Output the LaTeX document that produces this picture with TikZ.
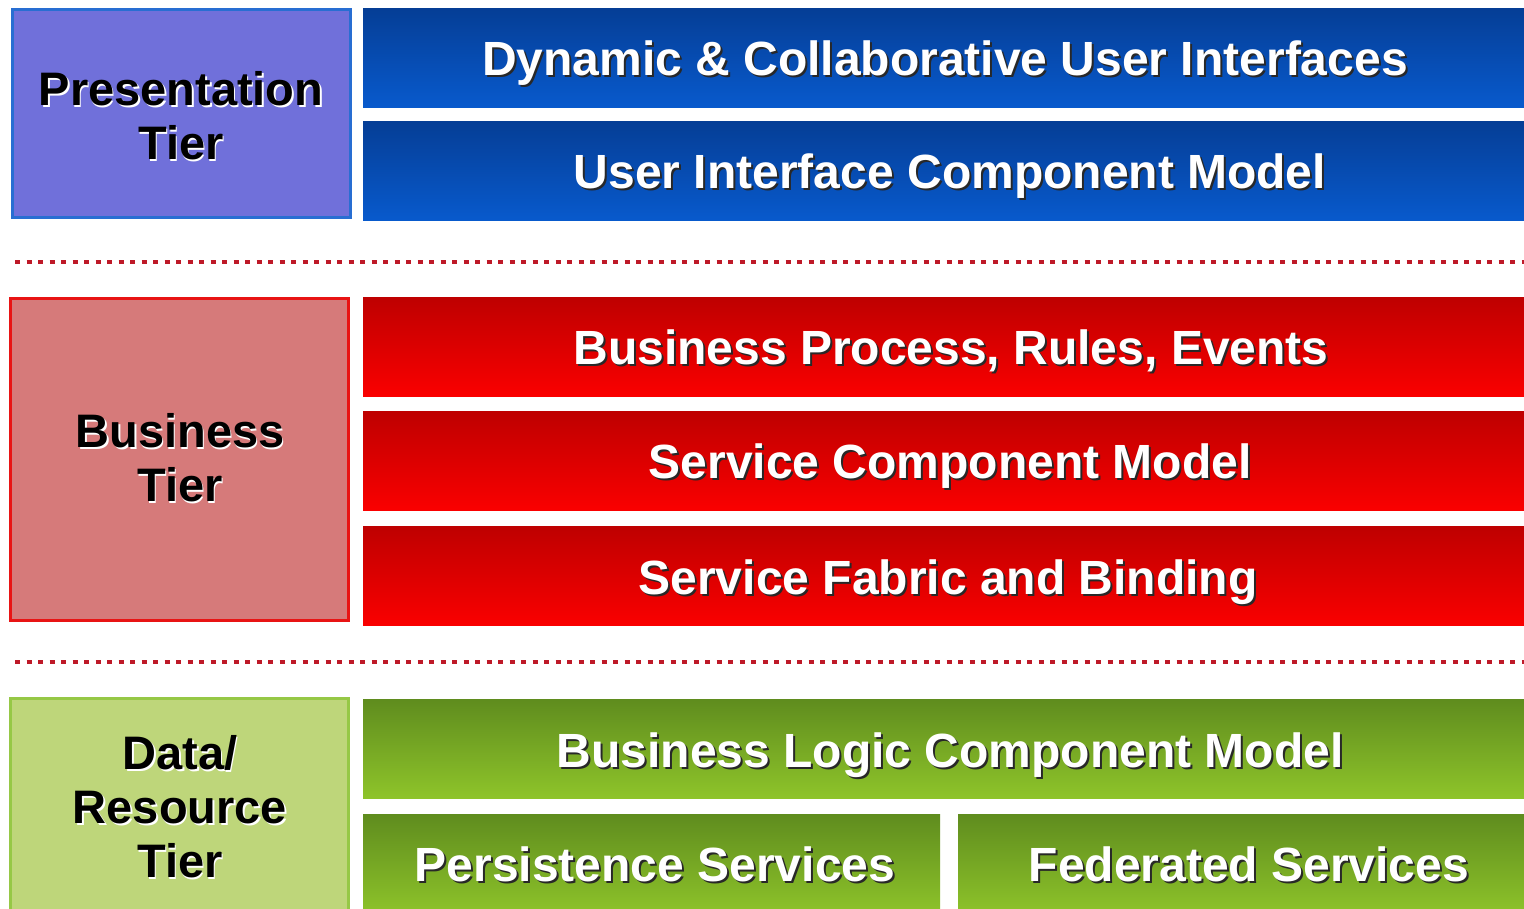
\documentclass[tikz,border=0pt]{standalone}
\usepackage{fontspec}
\setmainfont{Liberation Sans}
\definecolor{pfill}{RGB}{112,112,218}
\definecolor{pedge}{RGB}{40,110,210}
\definecolor{bfill}{RGB}{214,122,122}
\definecolor{bedge}{RGB}{232,20,20}
\definecolor{dfill}{RGB}{190,214,122}
\definecolor{dedge}{RGB}{150,200,70}
\definecolor{bluetop}{RGB}{5,62,150}
\definecolor{bluebot}{RGB}{8,90,205}
\definecolor{redtop}{RGB}{190,0,0}
\definecolor{redbot}{RGB}{250,0,0}
\definecolor{greentop}{RGB}{95,140,30}
\definecolor{greenbot}{RGB}{142,196,42}
\definecolor{dotred}{RGB}{190,25,40}
\definecolor{shadowdark}{RGB}{40,40,40}
\tikzset{
  tierbox/.style={rectangle, line width=1.5pt, minimum width=169pt, inner sep=0pt},
  bar/.style={rectangle, draw=none, inner sep=0pt, minimum height=49.5pt},
  bluebar/.style={bar, top color=bluetop, bottom color=bluebot},
  redbar/.style={bar, top color=redtop, bottom color=redbot},
  greenbar/.style={bar, top color=greentop, bottom color=greenbot},
  bartext/.style={text=white, font=\fontsize{24}{27}\selectfont\bfseries, text height=17pt, text depth=0pt, inner sep=0pt},
  barshadow/.style={bartext, text=shadowdark, xshift=1pt, yshift=-1pt},
  tiertext/.style={text=black, font=\fontsize{23.5}{27}\selectfont\bfseries, align=center, inner sep=0pt},
  tiershadow/.style={tiertext, text=white, xshift=0.8pt, yshift=-0.8pt},
  dotline/.style={draw=dotred, line width=1.6pt, dash pattern=on 2.5pt off 3.25pt}
}
\begin{document}
\begin{tikzpicture}[x=0.5pt, y=-0.5pt]
\useasboundingbox (0,0) rectangle (1524,909);
\fill[white] (0,0) rectangle (1524,909);

% Presentation tier
\node[tierbox, draw=pedge, fill=pfill, minimum height=104pt] (ptier) at (181,114) {};
\node[tiershadow] (plabs) at (181,116) {Presentation\\Tier};
\node[tiertext] (plab) at (181,116) {Presentation\\Tier};

\node[bluebar, minimum width=583.5pt] (b1) at (946.5,58.5) {};
\node[barshadow] (b1ts) at (945,59) {Dynamic \& Collaborative User Interfaces};
\node[bartext] (b1t) at (945,59) {Dynamic \& Collaborative User Interfaces};

\node[bluebar, minimum width=583.5pt] (b2) at (946.5,171.5) {};
\node[barshadow] (b2ts) at (950,172) {User Interface Component Model};
\node[bartext] (b2t) at (950,172) {User Interface Component Model};

% dotted separator 1
\coordinate (d1a) at (15,262);
\coordinate (d1b) at (1530,262);
\draw[dotline] (d1a) -- (d1b);

% Business tier
\node[tierbox, draw=bedge, fill=bfill, minimum height=161pt] (btier) at (179,459) {};
\node[tiershadow] (blabs) at (180,458) {Business\\Tier};
\node[tiertext] (blab) at (180,458) {Business\\Tier};

\node[redbar, minimum width=583.5pt] (r1) at (946.5,346.5) {};
\node[barshadow] (r1ts) at (951,347) {Business Process, Rules, Events};
\node[bartext] (r1t) at (951,347) {Business Process, Rules, Events};

\node[redbar, minimum width=583.5pt] (r2) at (946.5,460.5) {};
\node[barshadow] (r2ts) at (950,461) {Service Component Model};
\node[bartext] (r2t) at (950,461) {Service Component Model};

\node[redbar, minimum width=583.5pt] (r3) at (946.5,575.5) {};
\node[barshadow] (r3ts) at (948,577) {Service Fabric and Binding};
\node[bartext] (r3t) at (948,577) {Service Fabric and Binding};

% dotted separator 2
\coordinate (d2a) at (15,662);
\coordinate (d2b) at (1530,662);
\draw[dotline] (d2a) -- (d2b);

% Data / Resource tier
\node[tierbox, draw=dedge, fill=dfill, minimum height=108.5pt] (dtier) at (179,806.5) {};
\node[tiershadow] (dlabs) at (180,807) {Data/\\Resource\\Tier};
\node[tiertext] (dlab) at (180,807) {Data/\\Resource\\Tier};

\node[greenbar, minimum width=583.5pt] (g1) at (946.5,748.5) {};
\node[barshadow] (g1ts) at (950,750) {Business Logic Component Model};
\node[bartext] (g1t) at (950,750) {Business Logic Component Model};

\node[greenbar, minimum width=288.5pt, minimum height=50.5pt] (g2) at (651.5,864.5) {};
\node[barshadow] (g2ts) at (655,864) {Persistence Services};
\node[bartext] (g2t) at (655,864) {Persistence Services};

\node[greenbar, minimum width=286pt, minimum height=50.5pt] (g3) at (1244,864.5) {};
\node[barshadow] (g3ts) at (1249,864) {Federated Services};
\node[bartext] (g3t) at (1249,864) {Federated Services};
\end{tikzpicture}
\end{document}
